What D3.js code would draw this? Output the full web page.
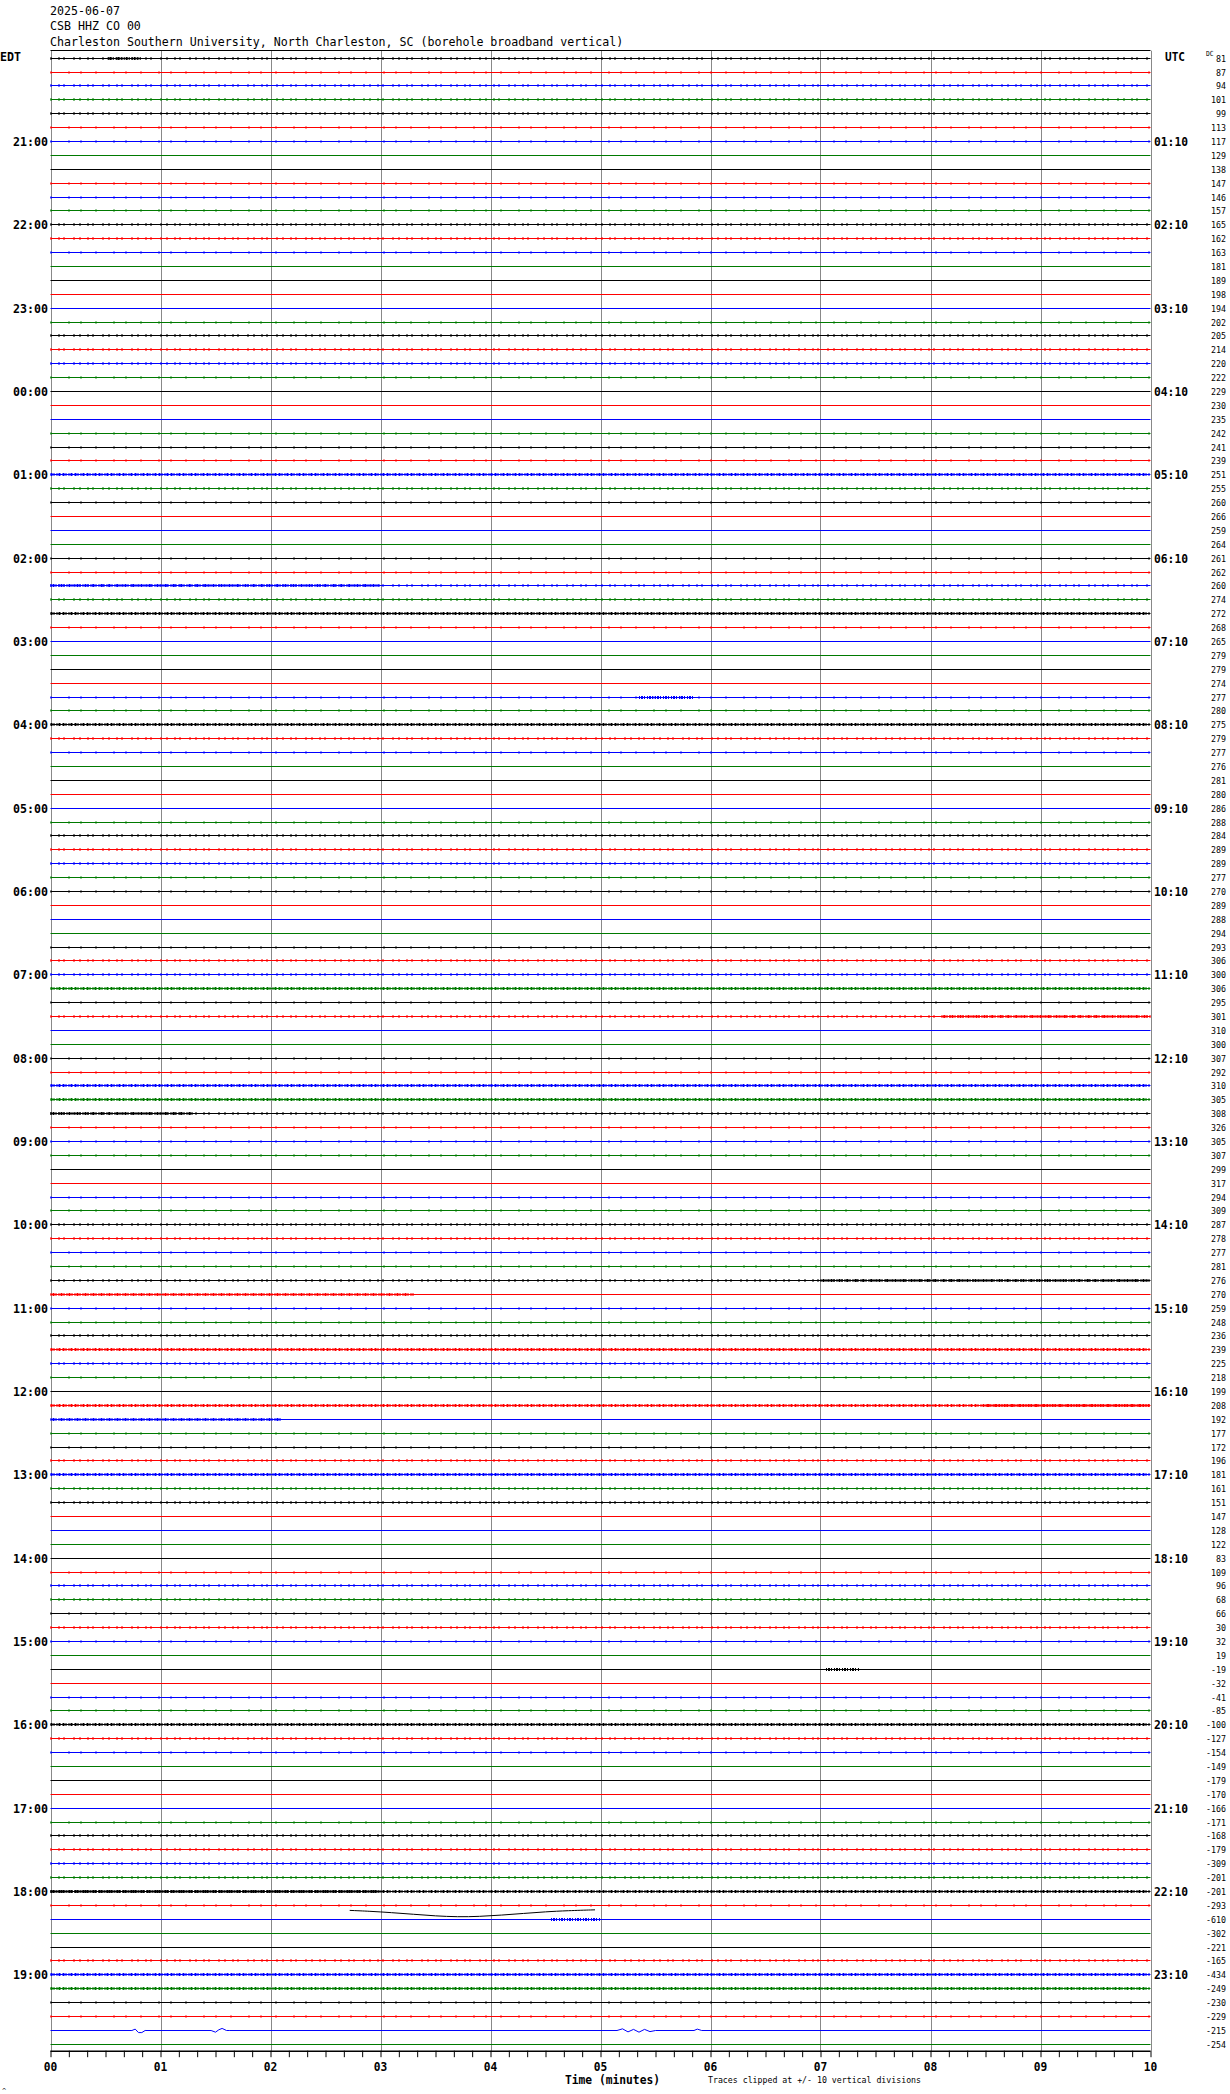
<!DOCTYPE html>
<html><head><meta charset="utf-8">
<script src="https://cdn.jsdelivr.net/npm/d3@7"></script>
<style>body{margin:0;background:#fff}svg{display:block}</style>
</head><body>
<script>
// ---------- DATA ----------
const headerLines = ["2025-06-07", "CSB HHZ CO 00",
  "Charleston Southern University, North Charleston, SC (borehole broadband vertical)"];
const edtLabels = ["21:00","22:00","23:00","00:00","01:00","02:00","03:00","04:00","05:00","06:00","07:00","08:00",
  "09:00","10:00","11:00","12:00","13:00","14:00","15:00","16:00","17:00","18:00","19:00"];
const utcLabels = ["01:10","02:10","03:10","04:10","05:10","06:10","07:10","08:10","09:10","10:10","11:10","12:10",
  "13:10","14:10","15:10","16:10","17:10","18:10","19:10","20:10","21:10","22:10","23:10"];
const minuteLabels = ["00","01","02","03","04","05","06","07","08","09","10"];
const dcValues = [81,87,94,101,99,113,117,129,138,147,146,157,165,162,163,181,189,198,194,202,205,214,220,222,229,230,235,242,
  241,239,251,255,260,266,259,264,261,262,260,274,272,268,265,279,279,274,277,280,275,279,277,276,281,280,286,288,284,
  289,289,277,270,289,288,294,293,306,300,306,295,301,310,300,307,292,310,305,308,326,305,307,299,317,294,309,287,278,
  277,281,276,270,259,248,236,239,225,218,199,208,192,177,172,196,181,161,151,147,128,122,83,109,96,68,66,30,
  32,19,-19,-32,-41,-85,-100,-127,-154,-149,-179,-170,-166,-171,-168,-179,-309,-201,-201,-293,-610,-302,-221,-165,-434,
  -249,-230,-229,-215,-254];
// background noise level read per trace (0 quiet .. 3 heavy)
const noiseLevels = [2,1,2,2,2,1,1,0,0,1,1,1,2,2,1,0,0,0,0,1,2,2,2,1,0,0,0,1,1,1,3,2,1,0,0,0,1,1,2,2,3,1,0,0,0,0,1,1,
  3,2,1,0,0,0,0,1,2,2,2,1,1,0,0,0,1,2,2,3,1,2,0,0,1,1,3,3,2,1,1,1,0,0,1,1,2,2,1,1,2,0,1,1,2,3,2,1,0,3,0,1,1,2,3,2,
  2,0,0,0,0,1,2,2,1,2,1,0,0,0,1,1,3,2,1,0,0,0,0,1,2,2,2,2,3,1,0,0,0,2,3,3,1,1,0,0];
// stretches of stronger shaking: trace, start minute, end minute
const burstTrace = [0, 38, 46, 69, 76, 88, 89, 97, 98, 116, 132, 134];
const burstStart = [0.52, 0.0, 5.35, 8.1, 0.0, 7.0, 0.0, 8.5, 0.0, 7.05, 0.0, 4.55];
const burstEnd   = [0.82, 3.0, 5.85, 10.0, 1.3, 10.0, 3.3, 10.0, 2.1, 7.35, 3.0, 5.0];
// visible wiggles: trace, minutes, amplitude (vertical divisions)
const wiggleTrace = [142];
const wiggleT = [[0.74,0.77,0.8,0.83,0.86,1.46,1.5,1.53,1.56,1.6,1.63,5.15,5.2,5.25,5.3,5.35,5.4,5.45,5.5,5.85,5.88,5.92]];
const wiggleV = [[0,1,-1.5,-1.5,0,0,-1.2,0.5,1.5,0,0,0,1.2,-1,0.8,-1.2,0.8,-0.8,0,0,1,0]];
// long-period excursion drawn beyond its row (trace, minutes, divisions)
const swellTrace = 132;
const swellT = [2.72, 2.9, 3.1, 3.3, 3.5, 3.7, 3.9, 4.1, 4.3, 4.5, 4.7, 4.95];
const swellV = [-13.6, -14.2, -15.2, -16.4, -17.6, -18.3, -18.0, -17.0, -15.8, -14.6, -13.8, -13.2];

// ---------- LAYOUT ----------
const W = 1230, H = 2094;
const pL = 50.5, pR = 1150.5, pT = 50.7, pB = 2050.7;
const colors = ["#000000", "#ff0000", "#0000ff", "#007a00"];
const mono = "'DejaVu Sans Mono', 'Liberation Mono', monospace";

const svg = d3.select("body").append("svg").attr("width", W).attr("height", H);
const x = d3.scaleLinear().domain([0, 10]).range([pL, pR]);
const y = d3.scaleBand().domain(d3.range(dcValues.length)).range([pT, pB]);
const rowY = i => Math.round(y(i) + y.bandwidth() / 2) + 0.5;
const amp = d3.scaleLinear().domain([-10, 10]).range([y.bandwidth(), -y.bandwidth()]);

// header
svg.append("g").selectAll("text").data(headerLines).join("text")
  .attr("x", 50).attr("y", (d, i) => 15 + i * 15.3)
  .attr("font-family", mono).attr("font-size", 11.5)
  .attr("textLength", d => d.length * 6.99).attr("lengthAdjust", "spacingAndGlyphs")
  .text(d => d);

// minute grid
svg.append("g").selectAll("line").data(d3.range(0, 11)).join("line")
  .attr("x1", d => Math.round(x(d)) + 0.5).attr("x2", d => Math.round(x(d)) + 0.5)
  .attr("y1", pT).attr("y2", pB)
  .attr("stroke", "#888").attr("stroke-width", 1);

// top border
svg.append("line").attr("x1", pL).attr("x2", pR).attr("y1", 50.5).attr("y2", 50.5)
  .attr("stroke", "#000").attr("stroke-width", 1);

// traces
const line = d3.line().x(d => x(d[0])).y(d => d[1]);
const traces = svg.append("g");
const dashes = ["", "1,17,1,11,1,14", "1,7,1,4,1,9,1,5", "2,1,1,2,1,1,2,2"];
const widths = [0, 2.4, 2.8, 3.0];
dcValues.forEach((dc, i) => {
  const c = colors[i % 4];
  const cy = rowY(i);
  const wi = wiggleTrace.indexOf(i);
  let pts = [[0, cy]];
  if (wi >= 0) wiggleT[wi].forEach((t, k) => pts.push([t, cy + amp(wiggleV[wi][k])]));
  pts.push([10, cy]);
  traces.append("path").attr("d", line(pts)).attr("fill", "none").attr("stroke", c).attr("stroke-width", 1);
  const lv = noiseLevels[i];
  if (lv > 0) {
    traces.append("path").attr("d", line([[0, cy], [10, cy]])).attr("fill", "none")
      .attr("stroke", c).attr("stroke-width", widths[lv]).attr("stroke-dasharray", dashes[lv]);
  }
});
burstTrace.forEach((tr, k) => {
  const cy = rowY(tr);
  traces.append("path").attr("d", line([[burstStart[k], cy], [burstEnd[k], cy]])).attr("fill", "none")
    .attr("stroke", colors[tr % 4]).attr("stroke-width", 3.2).attr("stroke-dasharray", "1,1,2,1,1,2");
});
traces.append("path")
  .attr("d", d3.line().curve(d3.curveBasis).x(d => x(d[0])).y(d => d[1])(
    swellT.map((t, k) => [t, rowY(swellTrace) + amp(swellV[k])])))
  .attr("fill", "none").attr("stroke", colors[swellTrace % 4]).attr("stroke-width", 1);

// left EDT labels
svg.append("text").attr("x", 0).attr("y", 61).attr("font-family", mono).attr("font-weight", "bold")
  .attr("font-size", 12.5).attr("textLength", 21).attr("lengthAdjust", "spacingAndGlyphs").text("EDT");
svg.append("g").selectAll("text").data(edtLabels).join("text")
  .attr("x", 48).attr("y", (d, k) => rowY(6 + k * 6) + 4.5).attr("text-anchor", "end")
  .attr("font-family", mono).attr("font-weight", "bold").attr("font-size", 13)
  .attr("textLength", 35).attr("lengthAdjust", "spacingAndGlyphs").text(d => d);

// right UTC labels
svg.append("text").attr("x", 1165).attr("y", 61).attr("font-family", mono).attr("font-weight", "bold")
  .attr("font-size", 12.5).attr("textLength", 20).attr("lengthAdjust", "spacingAndGlyphs").text("UTC");
svg.append("g").selectAll("text").data(utcLabels).join("text")
  .attr("x", 1154).attr("y", (d, k) => rowY(6 + k * 6) + 4.5)
  .attr("font-family", mono).attr("font-weight", "bold").attr("font-size", 13)
  .attr("textLength", 34).attr("lengthAdjust", "spacingAndGlyphs").text(d => d);

// DC values
svg.append("text").attr("x", 1206).attr("y", 56).attr("font-family", mono).attr("font-size", 7)
  .attr("textLength", 7.5).attr("lengthAdjust", "spacingAndGlyphs").text("DC");
svg.append("g").selectAll("text").data(dcValues).join("text")
  .attr("x", 1226).attr("y", (d, i) => rowY(i) + 3).attr("text-anchor", "end")
  .attr("font-family", mono).attr("font-size", 8.2)
  .attr("textLength", d => String(d).length * 5).attr("lengthAdjust", "spacingAndGlyphs").text(d => d);

// bottom axis
const axisG = svg.append("g").attr("transform", `translate(0,${pB})`);
axisG.call(d3.axisBottom(x).tickValues(d3.range(0, 10.0001, 1 / 6)).tickSize(6.5).tickFormat(""));
axisG.select(".domain").attr("stroke-width", 1.5).attr("d", `M${pL},0.5H${pR}`);
axisG.selectAll(".tick line").attr("stroke-width", 1);
svg.append("g").selectAll("text").data(minuteLabels).join("text")
  .attr("x", (d, k) => x(k)).attr("y", 2071).attr("text-anchor", "middle")
  .attr("font-family", mono).attr("font-weight", "bold").attr("font-size", 12.5)
  .attr("textLength", 13.5).attr("lengthAdjust", "spacingAndGlyphs").text(d => d);
svg.append("text").attr("x", 565).attr("y", 2083.5).attr("font-family", mono).attr("font-weight", "bold")
  .attr("font-size", 12).attr("textLength", 95).attr("lengthAdjust", "spacingAndGlyphs").text("Time (minutes)");
svg.append("text").attr("x", 708).attr("y", 2083).attr("font-family", mono)
  .attr("font-size", 8).attr("textLength", 213).attr("lengthAdjust", "spacingAndGlyphs")
  .text("Traces clipped at +/- 10 vertical divisions");
svg.append("text").attr("x", 2).attr("y", 2093).attr("font-family", mono).attr("font-size", 7).text("^");
</script>
</body></html>
